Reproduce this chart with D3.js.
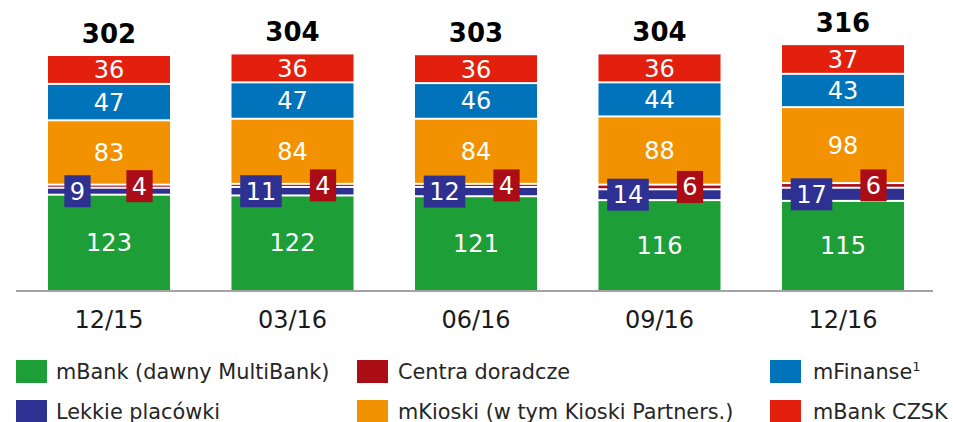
<!DOCTYPE html>
<html>
<head>
<meta charset="utf-8">
<script src="https://cdn.jsdelivr.net/npm/d3@7/dist/d3.min.js"></script>
<style>
  html, body { margin: 0; padding: 0; background: #ffffff; }
  svg { display: block; font-family: "DejaVu Sans", Verdana, sans-serif; }
</style>
</head>
<body>
<svg id="chart" width="953" height="422"></svg>
<script>
// Network of outlets by period
const categories = ["12/15", "03/16", "06/16", "09/16", "12/16"];
const mBankValues    = [123, 122, 121, 116, 115];
const lekkieValues   = [9, 11, 12, 14, 17];
const centraValues   = [4, 4, 4, 6, 6];
const mKioskiValues  = [83, 84, 84, 88, 98];
const mFinanseValues = [47, 47, 46, 44, 43];
const czskValues     = [36, 36, 36, 36, 37];

const seriesKeys = ["mBank", "lekkie", "centra", "mKioski", "mFinanse", "czsk"];
const seriesNames = {
  mBank: "mBank (dawny MultiBank)",
  lekkie: "Lekkie placówki",
  centra: "Centra doradcze",
  mKioski: "mKioski (w tym Kioski Partners.)",
  mFinanse: "mFinanse",
  czsk: "mBank CZSK"
};
const colors = {
  mBank: "#1d9e37",
  lekkie: "#2e3191",
  centra: "#ab0d17",
  mKioski: "#f39200",
  mFinanse: "#0073bb",
  czsk: "#e3200d"
};

const rows = categories.map((c, i) => ({
  cat: c,
  mBank: mBankValues[i],
  lekkie: lekkieValues[i],
  centra: centraValues[i],
  mKioski: mKioskiValues[i],
  mFinanse: mFinanseValues[i],
  czsk: czskValues[i]
}));
const totals = rows.map(r => seriesKeys.reduce((s, k) => s + r[k], 0));

const svg = d3.select("#chart");

const x = d3.scaleBand()
  .domain(categories)
  .range([17.25, 934.75])
  .paddingInner(0.335)
  .paddingOuter(0.1675);

const y = d3.scaleLinear()
  .domain([0, 302])
  .range([290, 56]);

const stacked = d3.stack().keys(seriesKeys)(rows);
const gap = 2;

// stacked segments, separated by thin white gaps
const layers = svg.append("g").selectAll("g")
  .data(stacked)
  .join("g")
  .attr("fill", d => colors[d.key]);

layers.selectAll("rect")
  .data(d => d.map((p, i) => ({ key: d.key, y0: p[0], y1: p[1], i, cat: p.data.cat })))
  .join("rect")
  .attr("x", d => x(d.cat))
  .attr("width", x.bandwidth())
  .attr("y", d => {
    const isTop = Math.abs(d.y1 - totals[d.i]) < 1e-9;
    return y(d.y1) + (isTop ? 0 : gap / 2);
  })
  .attr("height", d => {
    const isTop = Math.abs(d.y1 - totals[d.i]) < 1e-9;
    const topPx = y(d.y1) + (isTop ? 0 : gap / 2);
    const botPx = y(d.y0) - (d.y0 === 0 ? 0 : gap / 2);
    return Math.max(0.6, botPx - topPx);
  });

// baseline
svg.append("line")
  .attr("x1", 16).attr("x2", 933)
  .attr("y1", 291).attr("y2", 291)
  .attr("stroke", "#a3a3a3")
  .attr("stroke-width", 2);

// labels inside the large segments
const inside = ["mBank", "mKioski", "mFinanse", "czsk"];
stacked.filter(s => inside.includes(s.key)).forEach(s => {
  svg.append("g").selectAll("text")
    .data(s)
    .join("text")
    .attr("x", p => x(p.data.cat) + x.bandwidth() / 2)
    .attr("y", p => (y(p[0]) + y(p[1])) / 2 + 8.5)
    .attr("text-anchor", "middle")
    .attr("fill", "#ffffff")
    .attr("font-size", 24)
    .text(p => p[1] - p[0]);
});

// boxed labels for the thin segments
const boxed = { lekkie: -31.5, centra: 30.5 };
stacked.filter(s => s.key in boxed).forEach(s => {
  const g = svg.append("g").selectAll("g")
    .data(s)
    .join("g")
    .attr("transform", p => {
      const cx = x(p.data.cat) + x.bandwidth() / 2 + boxed[s.key];
      const cy = (y(p[0]) + y(p[1])) / 2;
      return `translate(${cx},${cy})`;
    });
  g.append("rect").attr("fill", colors[s.key]);
  const txt = g.append("text")
    .attr("text-anchor", "middle")
    .attr("y", 8.5)
    .attr("fill", "#ffffff")
    .attr("font-size", 24)
    .text(p => p[1] - p[0]);
  txt.each(function () {
    const w = this.getComputedTextLength() + 11;
    d3.select(this.parentNode).select("rect")
      .attr("x", -w / 2).attr("width", w)
      .attr("y", -16).attr("height", 32);
  });
});

// totals above bars
svg.append("g").selectAll("text")
  .data(categories)
  .join("text")
  .attr("x", c => x(c) + x.bandwidth() / 2)
  .attr("y", (c, i) => y(totals[i]) - 13)
  .attr("text-anchor", "middle")
  .attr("font-size", 26)
  .attr("font-weight", "bold")
  .attr("fill", "#000000")
  .text((c, i) => totals[i]);

// category axis
const xAxis = svg.append("g")
  .attr("transform", "translate(0,291)")
  .call(d3.axisBottom(x).tickSize(0).tickPadding(0));
xAxis.select(".domain").remove();
xAxis.selectAll("text")
  .attr("y", 37)
  .attr("dy", null)
  .attr("font-size", 24)
  .attr("font-family", "DejaVu Sans, Verdana, sans-serif")
  .attr("fill", "#1a1a1a");

// legend
const legendItems = [
  { key: "mBank", col: 0, row: 0 },
  { key: "lekkie", col: 0, row: 1 },
  { key: "centra", col: 1, row: 0 },
  { key: "mKioski", col: 1, row: 1 },
  { key: "mFinanse", col: 2, row: 0 },
  { key: "czsk", col: 2, row: 1 }
];
const colX = [16, 357, 770];
const textX = [56, 398, 813];
const rowY = [360, 400];

const lg = svg.append("g").selectAll("g")
  .data(legendItems)
  .join("g");
lg.append("rect")
  .attr("x", d => colX[d.col])
  .attr("y", d => rowY[d.row])
  .attr("width", 31)
  .attr("height", 23)
  .attr("fill", d => colors[d.key]);
const lt = lg.append("text")
  .attr("x", d => textX[d.col])
  .attr("y", d => rowY[d.row] + 18.5)
  .attr("font-size", 20.8)
  .attr("fill", "#262626")
  .text(d => seriesNames[d.key]);
lt.filter(d => d.key === "mFinanse")
  .append("tspan")
  .attr("font-size", 13)
  .attr("dy", -8)
  .text("1");
</script>
</body>
</html>
